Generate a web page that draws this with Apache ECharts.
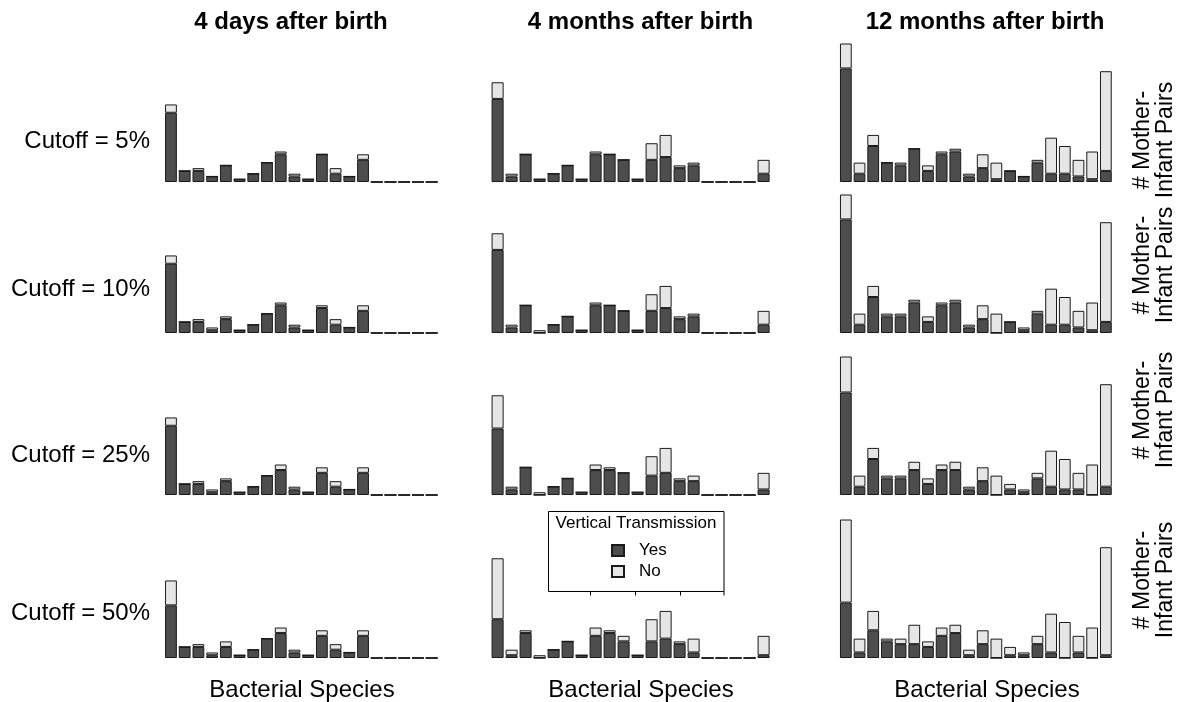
<!DOCTYPE html>
<html>
<head>
<meta charset="utf-8">
<script src="https://cdn.jsdelivr.net/npm/echarts@6/dist/echarts.min.js"></script>
<style>
html,body{margin:0;padding:0;background:#fff;}
#chart{width:1178px;height:702px;}
</style>
</head>
<body>
<div id="chart"></div>
<script>
const categories = ['1','2','3','4','5','6','7','8','9','10','11','12','13','14','15','16','17','18','19','20'];
const colTitles = ['4 days after birth','4 months after birth','12 months after birth'];
const rowLabels = ['Cutoff = 5%','Cutoff = 10%','Cutoff = 25%','Cutoff = 50%'];
const xLabel = 'Bacterial Species';
const yLabel = '# Mother-\nInfant Pairs';
const legendTitle = 'Vertical Transmission';
const seriesNames = ['Yes','No'];

// 4 days after birth
const d4_yes_5  = [25,4,4,2,6,1,3,7,10,2,1,10,3,2,8,0,0,0,0,0];
const d4_no_5   = [3,0,1,0,0,0,0,0,1,1,0,0,2,0,2,0,0,0,0,0];
const d4_yes_10 = [25,4,4,1,5,1,3,7,10,2,1,9,3,2,8,0,0,0,0,0];
const d4_no_10  = [3,0,1,1,1,0,0,0,1,1,0,1,2,0,2,0,0,0,0,0];
const d4_yes_25 = [25,4,4,1,5,1,3,7,9,2,1,8,3,2,8,0,0,0,0,0];
const d4_no_25  = [3,0,1,1,1,0,0,0,2,1,0,2,2,0,2,0,0,0,0,0];
const d4_yes_50 = [19,4,4,1,4,1,3,7,9,2,1,8,3,2,8,0,0,0,0,0];
const d4_no_50  = [9,0,1,1,2,0,0,0,2,1,0,2,2,0,2,0,0,0,0,0];
// 4 months after birth
const m4_yes_5  = [30,2,10,1,3,6,1,10,10,8,1,8,9,5,6,0,0,0,0,3];
const m4_no_5   = [6,1,0,0,0,0,0,1,0,0,0,6,8,1,1,0,0,0,0,5];
const m4_yes_10 = [30,2,10,0,3,6,1,10,10,8,1,8,9,5,6,0,0,0,0,3];
const m4_no_10  = [6,1,0,1,0,0,0,1,0,0,0,6,8,1,1,0,0,0,0,5];
const m4_yes_25 = [24,2,10,0,3,6,1,9,9,8,1,7,8,5,5,0,0,0,0,2];
const m4_no_25  = [12,1,0,1,0,0,0,2,1,0,0,7,9,1,2,0,0,0,0,6];
const m4_yes_50 = [14,1,9,0,3,6,1,8,9,6,1,6,7,5,2,0,0,0,0,1];
const m4_no_50  = [22,2,1,1,0,0,0,3,1,2,0,8,10,1,5,0,0,0,0,7];
// 12 months after birth
const m12_yes_5  = [41,3,13,7,6,12,4,10,11,2,5,1,4,2,7,3,3,2,1,4];
const m12_no_5   = [9,4,4,0,1,0,2,1,1,1,5,6,0,0,1,13,10,6,10,36];
const m12_yes_10 = [41,3,13,6,6,11,4,10,11,2,5,0,4,1,7,3,3,2,1,4];
const m12_no_10  = [9,4,4,1,1,1,2,1,1,1,5,7,0,1,1,13,10,6,10,36];
const m12_yes_25 = [37,3,13,6,6,9,4,9,9,2,5,0,2,1,6,3,2,2,0,3];
const m12_no_25  = [13,4,4,1,1,3,2,2,3,1,5,7,2,1,2,13,11,6,11,37];
const m12_yes_50 = [20,2,10,6,5,5,4,8,9,1,5,0,1,1,5,2,0,2,0,1];
const m12_no_50  = [30,5,7,1,2,7,2,3,3,2,5,7,3,1,3,14,13,6,11,39];

const panels = [
  [[d4_yes_5,d4_no_5],[m4_yes_5,m4_no_5],[m12_yes_5,m12_no_5]],
  [[d4_yes_10,d4_no_10],[m4_yes_10,m4_no_10],[m12_yes_10,m12_no_10]],
  [[d4_yes_25,d4_no_25],[m4_yes_25,m4_no_25],[m12_yes_25,m12_no_25]],
  [[d4_yes_50,d4_no_50],[m4_yes_50,m4_no_50],[m12_yes_50,m12_no_50]]
];

const YMAX = 50;
const plotH = 138.5;
const baselines = [182, 333, 495, 658];
const colLeft = [164.1, 490.6, 839];
const colWidth = [274.4, 280, 273.7];
const DARK = '#4d4d4d', LIGHT = '#e6e6e6', EDGE = '#1a1a1a';
const FONT = '"Liberation Sans", Arial, Helvetica, sans-serif';

const grid = [], xAxis = [], yAxis = [], series = [];
let gi = 0;
for (let r = 0; r < 4; r++) {
  for (let c = 0; c < 3; c++) {
    grid.push({left: colLeft[c], width: colWidth[c], top: baselines[r] - plotH, height: plotH, containLabel: false});
    xAxis.push({type: 'category', gridIndex: gi, data: categories, show: false});
    yAxis.push({type: 'value', gridIndex: gi, min: 0, max: YMAX, show: false});
    const [yes, no] = panels[r][c];
    series.push({
      name: seriesNames[0], type: 'bar', xAxisIndex: gi, yAxisIndex: gi, stack: 's' + gi,
      data: yes, barCategoryGap: '14%', silent: true,
      itemStyle: {color: DARK, borderColor: EDGE, borderWidth: 1}
    });
    series.push({
      name: seriesNames[1], type: 'bar', xAxisIndex: gi, yAxisIndex: gi, stack: 's' + gi,
      data: no, barCategoryGap: '14%', silent: true,
      itemStyle: {color: LIGHT, borderColor: EDGE, borderWidth: 1}
    });
    gi++;
  }
}

const graphic = [];
const colCenters = [291, 640.5, 985];
const xLabelCenters = [302, 641, 987];
const titleFont = 'bold 24px ' + FONT;
const labelFont = '24px ' + FONT;
function txt(x, y, text, font, align, extra) {
  const e = {type: 'text', x: x, y: y, style: {text: text, font: font, fill: '#000', align: align, verticalAlign: 'middle', textAlign: align, textVerticalAlign: 'middle'}};
  if (extra) Object.assign(e, extra);
  return e;
}
for (let c = 0; c < 3; c++) {
  graphic.push(txt(colCenters[c], 22, colTitles[c], titleFont, 'center'));
  graphic.push(txt(xLabelCenters[c], 690, xLabel, labelFont, 'center'));
}
const rowLabelY = [141, 289, 455, 613];
const rightLabelY = [140, 265, 410, 580];
for (let r = 0; r < 4; r++) {
  graphic.push(txt(150, rowLabelY[r], rowLabels[r], labelFont, 'right'));
  const e = txt(1154, rightLabelY[r], yLabel, '23px ' + FONT, 'center', {rotation: Math.PI / 2});
  e.style.lineHeight = 23;
  graphic.push(e);
}
// legend box
graphic.push({type: 'rect', z: 50, shape: {x: 548.5, y: 511.5, width: 175.5, height: 80}, style: {fill: '#fff', stroke: '#000', lineWidth: 1}});
[590.5, 635.5, 680.5, 724].forEach(function (tx) {
  graphic.push({type: 'line', z: 50, shape: {x1: tx, y1: 591.5, x2: tx, y2: 595.5}, style: {stroke: '#000', lineWidth: 1}});
});
graphic.push(txt(636, 523, legendTitle, '17px ' + FONT, 'center', {z: 51}));

const option = {
  animation: false,
  backgroundColor: '#fff',
  grid: grid, xAxis: xAxis, yAxis: yAxis, series: series,
  legend: {
    data: seriesNames, orient: 'vertical', left: 611, top: 542, z: 60,
    itemWidth: 12, itemHeight: 11, itemGap: 4, padding: 0, icon: 'rect',
    selectedMode: false,
    textStyle: {fontFamily: FONT, fontSize: 17, color: '#000', padding: [0, 0, 0, 10]}
  },
  graphic: {elements: graphic}
};
const chart = echarts.init(document.getElementById('chart'), null, {renderer: 'canvas'});
chart.setOption(option);
</script>
</body>
</html>
